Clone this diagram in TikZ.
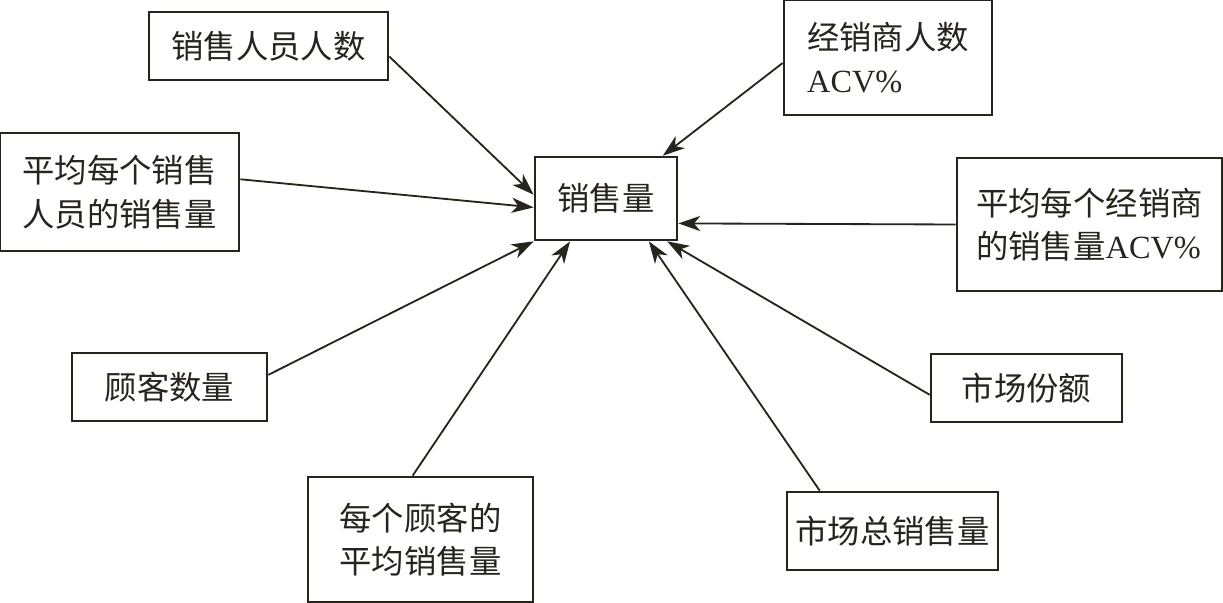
\documentclass[tikz,border=0pt]{standalone}
\usepackage{fontspec}
\setmainfont{Liberation Serif}
\newfontfamily\cjk{Noto Sans CJK SC}
\definecolor{ink}{RGB}{38,36,28}
\usetikzlibrary{arrows.meta}

\begin{document}
\begin{tikzpicture}[x=0.025cm, y=-0.025cm,
      factor/.style={draw=ink, line width=1.9pt, inner sep=0pt, align=center,
        text=ink, font=\cjk\fontsize{23}{31}\selectfont},
      drive/.style={-{Stealth[length=5.5mm, width=3.8mm, inset=1.6mm]}, line width=1.3pt, color=ink},
    ]
    \useasboundingbox (0,0) rectangle (1223,603);

    \node[factor, minimum width=3.55cm, minimum height=2.075cm]
      (sales) at (606,198.5) {销售量};
    \node[factor, minimum width=5.975cm, minimum height=1.7cm]
      (reps) at (268.5,46) {销售人员人数};
    \node[factor, align=left, minimum width=5.2cm, minimum height=2.875cm]
      (dealers) at (888,57.5) {经销商人数\\{\rmfamily ACV\%}};
    \node[factor, align=left, minimum width=5.975cm, minimum height=2.95cm]
      (repavg) at (119.5,192) {平均每个销售\\人员的销售量};
    \node[factor, align=left, minimum width=6.625cm, minimum height=3.325cm]
      (dealavg) at (1089.5,224.5) {平均每个经销商\\的销售量{\rmfamily ACV\%}};
    \node[factor, minimum width=4.875cm, minimum height=1.7cm]
      (custs) at (169.5,387) {顾客数量};
    \node[factor, minimum width=4.775cm, minimum height=1.7cm]
      (share) at (1026.5,388) {市场份额};
    \node[factor, minimum width=5.625cm, minimum height=3.125cm]
      (custavg) at (420.5,539.5) {每个顾客的\\平均销售量};
    \node[factor, minimum width=5.275cm, minimum height=1.95cm]
      (market) at (892.5,531) {市场总销售量};

    \draw[drive] (reps.-5) -- (sales.177);
    \draw[drive] (dealers.183) -- (sales.37.5);
    \draw[drive] (repavg.6) -- (sales.187);
    \draw[drive] (dealavg.west) -- (sales.-19);
    \draw[drive] (custs.7) -- (sales.south west);
    \draw[drive] (custavg.97) -- (sales.230);
    \draw[drive] (market.151) -- (sales.-45);
    \draw[drive] (share.184) -- (sales.-35);
  \end{tikzpicture}
\end{document}
